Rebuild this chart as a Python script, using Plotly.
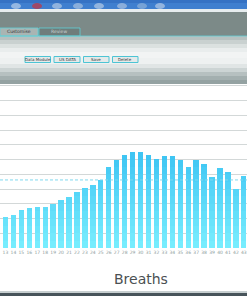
import plotly.graph_objects as go

# ---- data ----
breath_numbers = list(range(12, 44))
breath_values = [20.8, 21.2, 22.2, 25.6, 27.2, 27.6, 27.6, 29.9, 32.4, 34.6,
                 38.2, 40.7, 42.8, 46.2, 54.8, 59.7, 63.1, 65.2, 65.2, 62.9,
                 60.6, 62.5, 62.5, 60.0, 54.8, 60.0, 57.2, 48.2, 54.3, 51.4,
                 40.3, 48.9]
tick_labels = [str(n) for n in range(13, 44)]
reference_level = 46.2
axis_title = "Breaths"
tab_labels = ["Customise", "Review"]
button_labels = ["Data Module", "US DATA", "Save", "Delete"]

W, H = 247, 296
PLOT_TOP, PLOT_BOTTOM = 80, 248
PH = PLOT_BOTTOM - PLOT_TOP


def py(p):
    return (PLOT_BOTTOM - p) / PH


def px(x):
    return x / W


def lerp(c1, c2, t):
    return "rgb(%d,%d,%d)" % tuple(round(a + (b - a) * t) for a, b in zip(c1, c2))


fig = go.Figure()

# gradient bars built by overlaying clipped copies of the series
top_col = (58, 194, 242)
bot_col = (124, 240, 255)
levels = [70 - 5 * k for k in range(14)]
for i, lev in enumerate(levels):
    t = 1 - lev / 70
    fig.add_trace(go.Bar(
        x=breath_numbers,
        y=[min(v, lev) for v in breath_values],
        width=0.67,
        marker=dict(color=lerp(top_col, bot_col, t), line=dict(width=0)),
        hoverinfo="skip", showlegend=False,
    ))

shapes = []
# dashed reference line
shapes.append(dict(type="line", xref="paper", yref="y", x0=0, x1=1,
                   y0=reference_level, y1=reference_level,
                   line=dict(color="#7fd8ee", width=1, dash="3px,2px"), layer="above"))

# ---- window chrome (decoration) ----
def rect(x0, y0, x1, y1, fill, line=None, lw=0):
    d = dict(type="rect", xref="paper", yref="paper",
             x0=px(x0), x1=px(x1), y0=py(y1), y1=py(y0),
             fillcolor=fill, layer="above", line=dict(width=lw, color=line or fill))
    shapes.append(d)

# taskbar
rect(0, 0, W, 9, "#3f7fcf")
rect(0, 0, W, 3, "#3572c4")
for cx, col in [(16, "#b9cfe9"), (37, "#c8323c"), (57, "#b4c9e4"), (78, "#aac2e0"),
                (99, "#b5cbe6"), (122, "#a9c0df"), (142, "#8fb0d8"), (160, "#b6cbe6")]:
    shapes.append(dict(type="circle", xref="paper", yref="paper",
                       x0=px(cx - 5), x1=px(cx + 5), y0=py(9), y1=py(3),
                       fillcolor=col, line=dict(width=0), layer="above", opacity=0.7))
rect(0, 9, W, 12, "#e6ecee")
rect(0, 12, W, 36, "#7c8a88")
# gradient panel
grad = [(36, 40, "#b7c1c0"), (40, 44, "#c9d1d0"), (44, 48, "#dbe1e0"), (48, 52, "#e9eded"),
        (52, 58, "#f2f4f4"), (58, 64, "#eef1f1"), (64, 68, "#e0e5e5"), (68, 72, "#ccd4d4"),
        (72, 76, "#b6c0c0"), (76, 80, "#a3afaf"), (80, 84, "#94a2a2")]
for y0, y1, c in grad:
    rect(0, y0, W, y1, c)
# tabs
rect(0, 28, 38, 36, "#a9b5b3", "#5fd0d8", 0.8)
rect(39, 28, 80, 36, "#6f7d7b", "#5fd0d8", 0.8)
shapes.append(dict(type="line", xref="paper", yref="paper", x0=0, x1=1,
                   y0=py(36), y1=py(36), line=dict(color="#5fd0d8", width=0.8), layer="above"))
# buttons
btn_x = [(25, 50.5), (54, 80), (83.5, 109), (112.5, 138)]
for x0, x1 in btn_x:
    rect(x0, 56.5, x1, 62.5, "#e4eaea", "#4cc4d4", 1)
# bottom bar
rect(0, 291, W, 293, "#c7cfd0")
rect(0, 293, W, H, "#47545a")

annotations = []
for (x0, x1), lab in zip(btn_x, button_labels):
    annotations.append(dict(x=px((x0 + x1) / 2), y=py(59.5), xref="paper", yref="paper",
                            text=lab, showarrow=False, xanchor="center", yanchor="middle",
                            font=dict(size=4, color="#333", family="DejaVu Sans")))
annotations.append(dict(x=px(19), y=py(32), xref="paper", yref="paper", text=tab_labels[0],
                        showarrow=False, xanchor="center", yanchor="middle",
                        font=dict(size=4.5, color="#333", family="DejaVu Sans")))
annotations.append(dict(x=px(59), y=py(32), xref="paper", yref="paper", text=tab_labels[1],
                        showarrow=False, xanchor="center", yanchor="middle",
                        font=dict(size=4.5, color="#c8d0d0", family="DejaVu Sans")))
annotations.append(dict(x=px(140.5), y=py(279), xref="paper", yref="paper", text=axis_title,
                        showarrow=False, xanchor="center", yanchor="middle",
                        font=dict(size=14, color="#4b5052", family="DejaVu Sans")))

fig.update_layout(
    width=W, height=H,
    margin=dict(l=0, r=0, t=PLOT_TOP, b=H - PLOT_BOTTOM, pad=0),
    paper_bgcolor="white", plot_bgcolor="white",
    barmode="overlay", bargap=0,
    shapes=shapes, annotations=annotations,
    xaxis=dict(range=[12.31, 43.4], tickmode="array",
               tickvals=list(range(13, 44)), ticktext=tick_labels, tickangle=0,
               tickfont=dict(size=4.5, color="#8e9c9c", family="DejaVu Sans"),
               showgrid=False, zeroline=False, showline=False, ticks="", fixedrange=True),
    yaxis=dict(range=[0, 114.05], dtick=10, showticklabels=False,
               gridcolor="#d3d8d8", gridwidth=1.4, zeroline=False, showline=False,
               fixedrange=True),
)

fig.write_html("out.html", config={"displayModeBar": False})
